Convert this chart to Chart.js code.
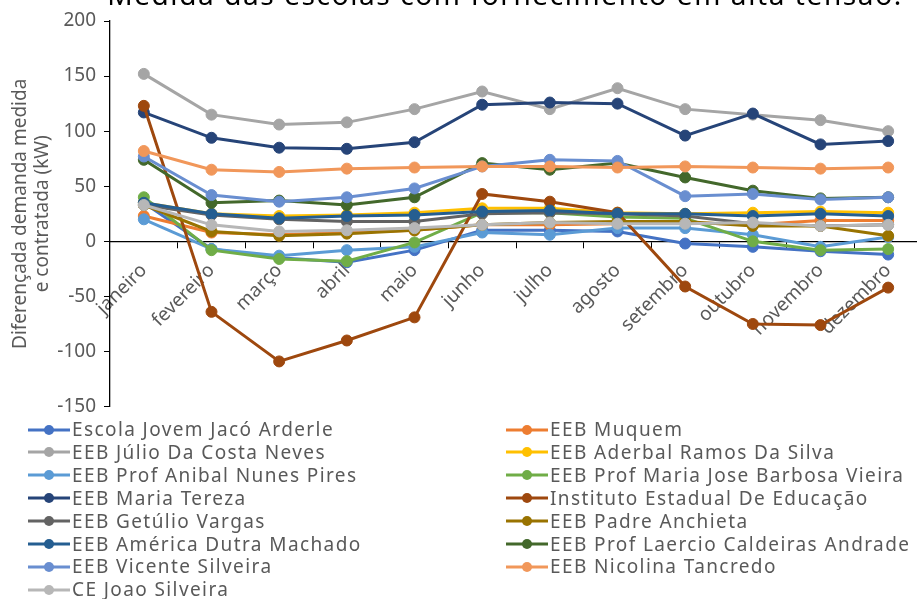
<!DOCTYPE html>
<html>
<head>
<meta charset="utf-8">
<script src="https://cdn.jsdelivr.net/npm/chart.js@4/dist/chart.umd.min.js"></script>
<style>
  html, body { margin: 0; padding: 0; width: 917px; height: 599px; overflow: hidden; background: #fff; }
  #wrap { position: absolute; left: 0; top: 0; width: 930px; height: 426px; }
  #title { position: absolute; left: 0; top: -20px; width: 1010px; text-align: center; font-family: "Noto Sans", sans-serif;
           font-size: 28px; line-height: 28px; letter-spacing: 1.6px; color: #000; white-space: nowrap; }
  #legend { position: absolute; left: 0; top: 418px; width: 917px; font-family: "Noto Sans", sans-serif; font-size: 19px;
            letter-spacing: 1.4px; color: #595959; }
  .item { position: absolute; height: 23px; line-height: 23px; white-space: nowrap; display: flex; align-items: center; }
  .item svg { margin-right: 2px; }
</style>
</head>
<body>
<div id="wrap"><canvas id="c"></canvas></div>
<div id="title">Medida das escolas com fornecimento em alta tensão:</div>
<div id="legend"></div>
<script>
const months = ['janeiro','fevereiro','março','abril','maio','junho','julho','agosto','setembro','outubro','novembro','dezembro'];
const yTicks = [-150, -100, -50, 0, 50, 100, 150, 200];

const seriesNames = [
  'Escola Jovem Jacó Arderle', 'EEB Muquem', 'EEB Júlio Da Costa Neves', 'EEB Aderbal Ramos Da Silva',
  'EEB Prof Anibal Nunes Pires', 'EEB Prof Maria Jose Barbosa Vieira', 'EEB Maria Tereza', 'Instituto Estadual De Educação',
  'EEB Getúlio Vargas', 'EEB Padre Anchieta', 'EEB América Dutra Machado', 'EEB Prof Laercio Caldeiras Andrade',
  'EEB Vicente Silveira', 'EEB Nicolina Tancredo', 'CE Joao Silveira'
];

const jacoArderle   = [35, -7, -15, -19, -8, 10, 10, 9, -2, -5, -9, -12];
const muquem        = [23, 8, 6, 8, 10, 15, 15, 16, 17, 15, 19, 19];
const julioNeves    = [152, 115, 106, 108, 120, 136, 120, 139, 120, 115, 110, 100];
const aderbalSilva  = [35, 25, 23, 24, 26, 30, 30, 26, 25, 26, 27, 26];
const anibalPires   = [20, -7, -13, -8, -5, 8, 6, 12, 12, 6, -5, 4];
const mariaJose     = [40, -8, -16, -18, -1, 26, 26, 22, 21, 0, -8, -7];
const mariaTereza   = [117, 94, 85, 84, 90, 124, 126, 125, 96, 116, 88, 91];
const instituto     = [123, -64, -109, -90, -69, 43, 36, 26, -41, -75, -76, -42];
const getulioVargas = [33, 24, 20, 18, 18, 25, 26, 25, 23, 16, 14, 15];
const padreAnchieta = [33, 9, 5, 7, 10, 15, 17, 18, 18, 14, 14, 5];
const americaDutra  = [35, 25, 21, 23, 24, 27, 28, 25, 25, 23, 25, 23];
const laercio       = [74, 35, 37, 33, 40, 71, 65, 71, 58, 46, 39, 40];
const vicente       = [77, 42, 36, 40, 48, 68, 74, 73, 41, 43, 38, 40];
const nicolina      = [82, 65, 63, 66, 67, 68, 68, 67, 68, 67, 66, 67];
const joaoSilveira  = [33, 15, 9, 10, 12, 15, 17, 16, 16, 17, 14, 15];

const seriesValues = [jacoArderle, muquem, julioNeves, aderbalSilva, anibalPires, mariaJose, mariaTereza, instituto,
  getulioVargas, padreAnchieta, americaDutra, laercio, vicente, nicolina, joaoSilveira];

const colors = ['#4472C4', '#ED7D31', '#A5A5A5', '#FFC000', '#5B9BD5', '#70AD47', '#264478', '#9E480E',
  '#636363', '#997300', '#255E91', '#43682B', '#698ED0', '#F1975A', '#B7B7B7'];

const FONT = '"Noto Sans", sans-serif';
const TXT = '#595959';

const datasets = seriesNames.map((n, i) => ({
  label: n,
  data: seriesValues[i],
  borderColor: colors[i],
  backgroundColor: colors[i],
  pointBackgroundColor: colors[i],
  pointBorderColor: colors[i],
  borderWidth: 3,
  pointRadius: 5.5,
  pointBorderWidth: 1,
  tension: 0,
  order: -i
}));

const chart = new Chart(document.getElementById('c'), {
  type: 'line',
  data: { labels: months, datasets },
  options: {
    responsive: true,
    maintainAspectRatio: false,
    animation: false,
    layout: { padding: { left: 0, right: 8, top: 21, bottom: 0 } },
    plugins: {
      legend: { display: false },
      tooltip: { enabled: false },
      title: { display: false }
    },
    scales: {
      x: {
        type: 'category',
        position: { y: 0 },
        offset: true,
        border: { color: '#000', width: 1.3 },
        grid: { display: true, drawOnChartArea: false, drawTicks: true, tickLength: 6, color: '#000', offset: true },
        ticks: { color: TXT, font: { family: FONT, size: 19 }, minRotation: 45, maxRotation: 45, autoSkip: false, padding: 12 }
      },
      y: {
        min: -150, max: 200,
        afterBuildTicks: (s) => { s.ticks = yTicks.map(v => ({ value: v })); },
        afterFit: (s) => { s.width = 110; },
        border: { color: '#000', width: 1.3 },
        grid: { display: true, drawOnChartArea: false, drawTicks: true, tickLength: 6, color: '#000' },
        ticks: { color: TXT, font: { family: FONT, size: 19 }, padding: 8 },
        title: {
          display: true,
          text: ['Diferençada demanda medida', 'e contratada (kW)'],
          color: TXT,
          font: { family: FONT, size: 19, lineHeight: 1.15 },
          padding: { top: 10, bottom: 0 }
        }
      }
    }
  }
});

// HTML legend built from the chart datasets (two columns, row-major like the reference)
const legend = document.getElementById('legend');
chart.data.datasets.forEach((ds, i) => {
  const col = i % 2, row = Math.floor(i / 2);
  const el = document.createElement('div');
  el.className = 'item';
  el.style.left = (col === 0 ? 28 : 506) + 'px';
  el.style.top = (row * 22.9) + 'px';
  el.innerHTML = '<svg width="42" height="12"><line x1="0" y1="6" x2="42" y2="6" stroke="' + ds.borderColor +
    '" stroke-width="3"/><circle cx="21" cy="6" r="5" fill="' + ds.borderColor + '"/></svg>';
  const span = document.createElement('span');
  span.textContent = ds.label;
  el.appendChild(span);
  legend.appendChild(el);
});
</script>
</body>
</html>
